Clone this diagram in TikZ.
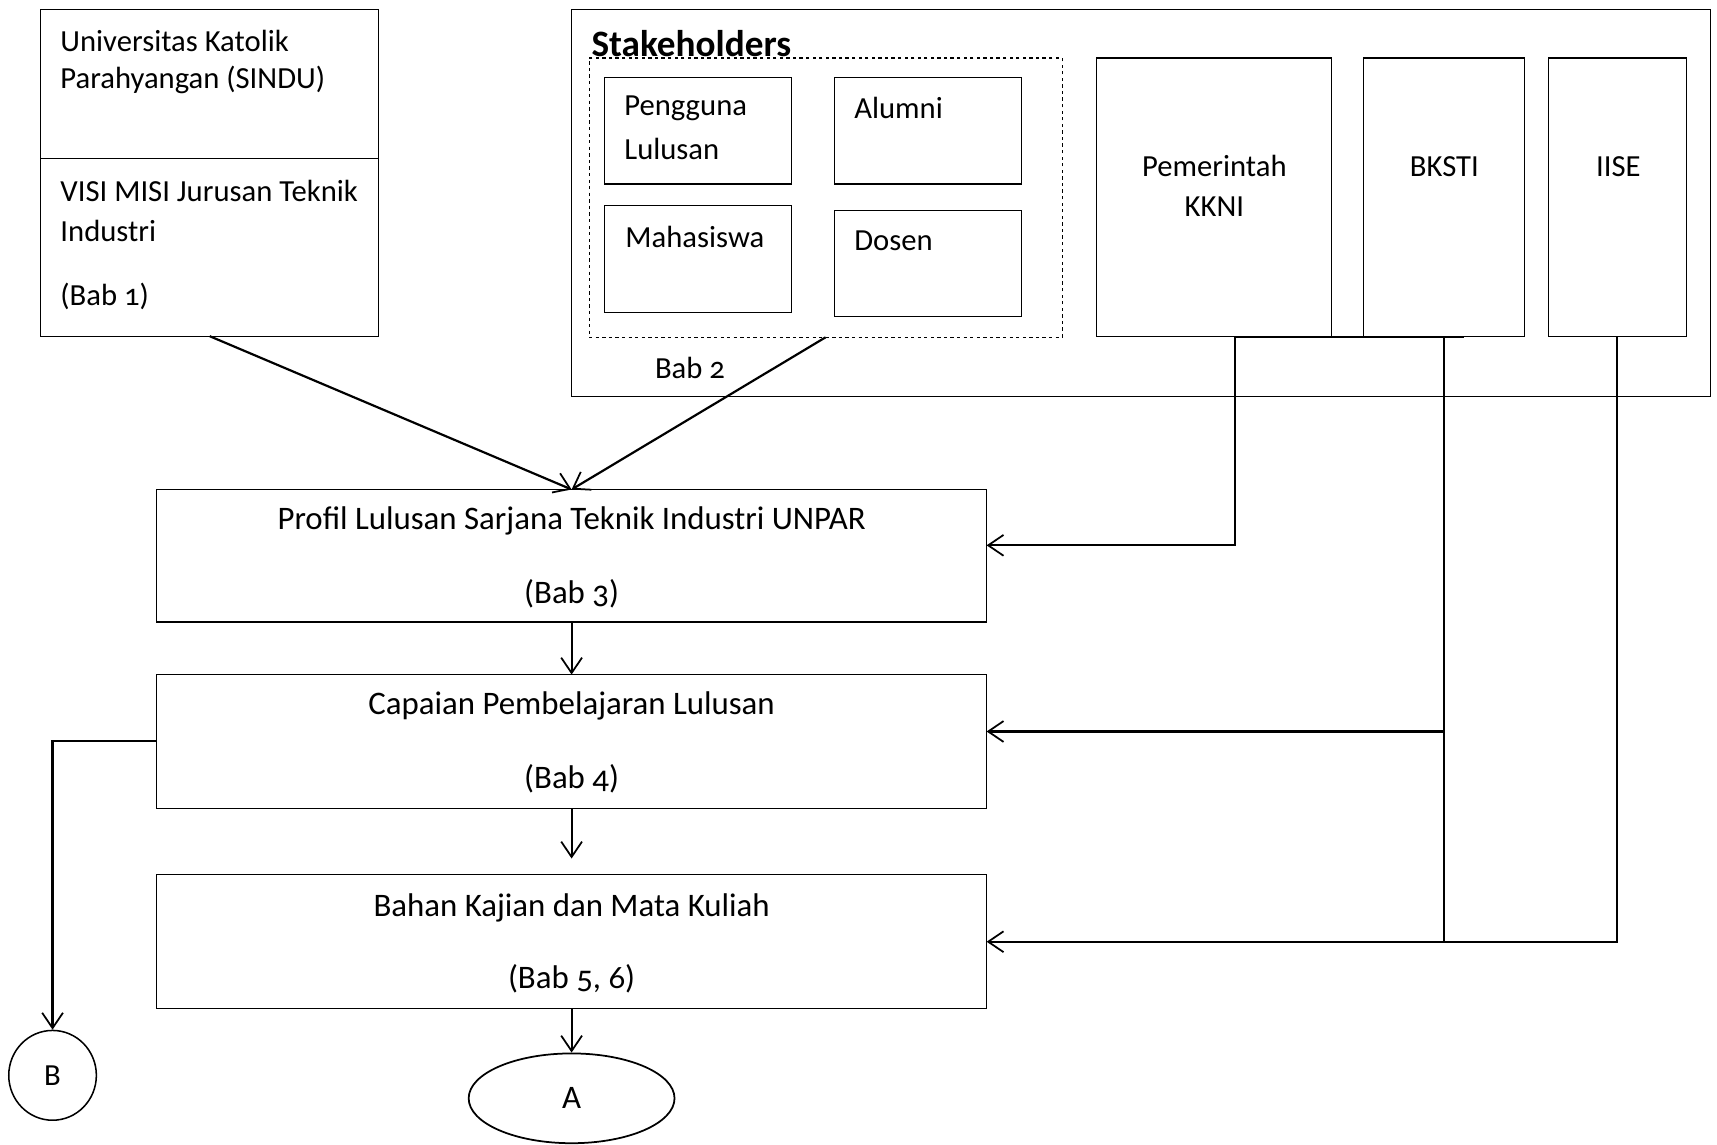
\documentclass[tikz,border=0pt]{standalone}
\usepackage{fontspec}
\setmainfont{Carlito}[Numbers=OldStyle]
\usetikzlibrary{arrows.meta,shapes.geometric,calc}
\begin{document}
\begin{tikzpicture}[x=1pt,y=-1pt,
  box/.style={draw, line width=1pt, inner sep=0pt, outer sep=0pt, anchor=north west},
  txt/.style={anchor=west, inner sep=0pt, font=\fontsize{28}{33}\selectfont},
  ctxt/.style={anchor=center, inner sep=0pt, font=\fontsize{28}{33}\selectfont},
  btxt/.style={anchor=center, inner sep=0pt, font=\fontsize{30}{35}\selectfont},
  conn/.style={line width=2pt},
  arr/.style={conn, -{Straight Barb[length=14pt,width=19pt,line width=1.6pt]}}]
\useasboundingbox (0,0) rectangle (1568,1045);
% left box
\node[box, minimum width=309pt, minimum height=136pt] (lbtop) at (37,9) {};
\node[box, minimum width=309pt, minimum height=162pt] (lbbot) at (37,145) {};
\node[txt] (t1) at (55,37) {Universitas Katolik};
\node[txt] (t2) at (55,73) {Parahyangan (SINDU)};
\node[txt] (t3) at (55,174) {VISI MISI Jurusan Teknik};
\node[txt] (t4) at (55,211) {Industri};
\node[txt] (t5) at (55,271) {(Bab 1)};
% stakeholders
\node[box, minimum width=1040pt, minimum height=353pt] (stake) at (522,9) {};
\node[txt, font=\bfseries\fontsize{34}{40}\selectfont] (tst) at (540,40) {Stakeholders};
\node[box, dashed, minimum width=432pt, minimum height=255pt] (grp) at (538,53) {};
\node[box, minimum width=171pt, minimum height=97pt] (peng) at (552,71) {};
\node[box, minimum width=171pt, minimum height=97pt] (alum) at (762,71) {};
\node[box, minimum width=171pt, minimum height=97pt] (maha) at (552,188) {};
\node[box, minimum width=171pt, minimum height=97pt] (dosen) at (762,192) {};
\node[txt] (tpeng) at (570,99) {Pengguna};
\node[txt] (tlul) at (570,136) {Lulusan};
\node[txt] (talum) at (780,99) {Alumni};
\node[txt] (tmaha) at (571,216) {Mahasiswa};
\node[txt] (tdos) at (780,220) {Dosen};
\node[txt] (tbab2) at (598,336) {Bab 2};
\node[box, minimum width=215pt, minimum height=254pt] (pem) at (1001,53) {};
\node[box, minimum width=147pt, minimum height=254pt] (bksti) at (1245,53) {};
\node[box, minimum width=126pt, minimum height=254pt] (iise) at (1414,53) {};
\node[ctxt] (tpem) at (1109,152) {Pemerintah};
\node[ctxt] (tkkni) at (1109,189) {KKNI};
\node[ctxt] (tbk) at (1319,152) {BKSTI};
\node[ctxt] (tii) at (1478,152) {IISE};
% main flow boxes
\node[box, minimum width=758pt, minimum height=121pt] (profil) at (143,447) {};
\node[box, minimum width=758pt, minimum height=122pt] (capaian) at (143,616) {};
\node[box, minimum width=758pt, minimum height=122pt] (bahan) at (143,799) {};
\node[btxt] (tp1) at (522,476) {Profil Lulusan Sarjana Teknik Industri UNPAR};
\node[btxt] (tp2) at (522,542) {(Bab 3)};
\node[btxt] (tc1) at (522,645) {Capaian Pembelajaran Lulusan};
\node[btxt] (tc2) at (522,711) {(Bab 4)};
\node[btxt] (tb1) at (522,829) {Bahan Kajian dan Mata Kuliah};
\node[btxt] (tb2) at (522,894) {(Bab 5, 6)};
% terminals
\node[draw, line width=1.6pt, ellipse, minimum width=188pt, minimum height=82pt, inner sep=0pt, font=\fontsize{30}{34}\selectfont] (A) at (522,1003) {A};
\node[draw, line width=1.4pt, ellipse, minimum width=80pt, minimum height=82pt, inner sep=0pt, font=\fontsize{28}{32}\selectfont] (B) at (48,982) {B};
% connectors
\draw[arr] (lbbot.south) -- (profil.north);
\draw[arr] (grp.south) -- (profil.north);
\draw[arr] (profil.south) -- (capaian.north);
\coordinate (capEnd) at (522,784);
\draw[arr] (capaian.south) -- (capEnd);
\draw[arr] (bahan.south) -- (A.north);
\draw[arr] (capaian.west) -| (B.north);
\coordinate (jP) at (1128,308);
\coordinate (jB) at (1319,308);
\coordinate (jEnd) at (1337,308);
\coordinate (pIn) at (901,498);
\coordinate (cOut) at (1319,668);
\coordinate (cIn) at (901,668);
\coordinate (jBot) at (1319,860);
\draw[conn] (jP) -- (jEnd);
\draw[arr] (jP) |- (pIn);
\draw[conn] (jB) -- (jBot);
\draw[arr] (cOut) -- (cIn);
\draw[arr] (iise.south) |- (bahan.east);
\end{tikzpicture}
\end{document}
